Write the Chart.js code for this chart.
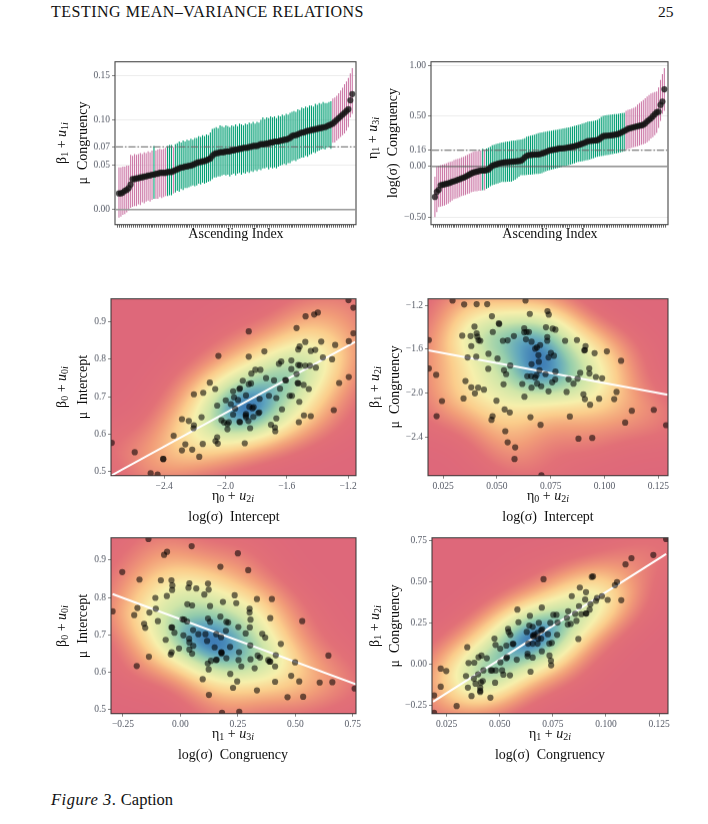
<!DOCTYPE html>
<html>
<head>
<meta charset="utf-8">
<script src="https://cdn.jsdelivr.net/npm/chart.js@4"></script>
<style>
  html, body { margin: 0; padding: 0; background: #fff; }
  body { width: 708px; height: 824px; position: relative; overflow: hidden; font-family: "Liberation Serif", serif; color: #111; }
  canvas { position: absolute; }
  .txt { position: absolute; white-space: pre; line-height: 1; }
  .lab { position: absolute; white-space: pre; line-height: 1; font-size: 14px; transform: translate(-50%, -50%); }
  .rot { transform: translate(-50%, -50%) rotate(-90deg); }
  sub { font-size: 10px; line-height: 0; vertical-align: -2px; }
</style>
</head>
<body>
<div class="txt" style="left:51px;top:3.5px;font-size:16px;letter-spacing:.5px">TESTING MEAN–VARIANCE RELATIONS</div>
<div class="txt" style="left:658px;top:3.5px;font-size:15.5px">25</div>
<div class="txt" style="left:51px;top:792px;font-size:16.5px"><i style="letter-spacing:.5px">Figure 3</i>.<span style="margin-left:5px">Caption</span></div>

<script>
// caterpillar plots: sorted person estimates with intervals
const meanCong = [
  .018,.018,.019,.021,.022,.024,.028,.034,.034,.035,
  .035,.036,.036,.037,.037,.038,.038,.039,.039,.040,
  .040,.041,.041,.041,.041,.042,.042,.042,.043,.044,
  .045,.046,.047,.047,.048,.048,.049,.049,.050,.051,
  .052,.053,.053,.054,.054,.055,.056,.057,.060,.062,
  .063,.063,.064,.064,.064,.065,.065,.065,.066,.066,
  .067,.067,.068,.068,.069,.069,.069,.070,.070,.071,
  .071,.071,.072,.073,.073,.073,.074,.074,.075,.075,
  .076,.076,.076,.077,.077,.078,.078,.079,.080,.082,
  .083,.083,.084,.085,.086,.086,.087,.088,.088,.089,
  .089,.090,.090,.091,.091,.092,.092,.093,.094,.095,
  .096,.098,.100,.102,.104,.106,.108,.110,.112,.122,.129];
const highCong = [
  .047,.047,.048,.048,.049,.049,.061,.060,.062,.061,
  .062,.063,.062,.064,.063,.065,.064,.066,.071,.066,
  .067,.068,.067,.068,.069,.071,.072,.072,.0695,.073,
  .074,.076,.075,.077,.076,.078,.077,.079,.078,.080,
  .080,.082,.081,.083,.082,.084,.083,.086,.090,.091,
  .092,.091,.094,.093,.092,.094,.093,.092,.094,.093,
  .095,.093,.096,.095,.094,.096,.095,.097,.096,.098,
  .096,.098,.097,.100,.103,.101,.103,.102,.104,.103,
  .104,.102,.105,.104,.106,.105,.107,.106,.108,.109,
  .110,.109,.112,.111,.114,.113,.115,.114,.116,.116,
  .115,.118,.117,.119,.118,.120,.119,.119,.120,.121,
  .124,.125,.127,.130,.133,.136,.140,.143,.147,.152,.158];
const lowCong = [
  -.009,-.008,-.006,-.005,-.003,-.001,.002,.003,.004,.004,
  .006,.005,.008,.007,.009,.010,.009,.011,.012,.012,
  .012,.014,.013,.014,.015,.015,.016,.016,.018,.019,
  .021,.020,.023,.022,.024,.024,.025,.026,.027,.026,
  .027,.029,.028,.030,.029,.030,.031,.032,.034,.036,
  .036,.037,.037,.038,.039,.038,.039,.037,.039,.040,
  .038,.040,.041,.039,.041,.040,.042,.041,.043,.042,
  .044,.043,.045,.044,.046,.046,.047,.045,.047,.046,
  .047,.046,.048,.049,.050,.051,.050,.052,.052,.054,
  .055,.054,.056,.057,.058,.058,.060,.059,.061,.062,
  .064,.063,.065,.066,.067,.068,.067,.069,.0695,.068,
  .0745,.075,.077,.079,.081,.083,.085,.088,.092,.103,.107];

const meanLog = [
  -.30,-.25,-.23,-.185,-.18,-.175,-.17,-.165,-.16,-.15,
  -.145,-.14,-.13,-.125,-.115,-.11,-.10,-.09,-.08,-.07,
  -.06,-.055,-.05,-.045,-.04,-.04,-.04,-.035,-.03,-.01,
  .007,.015,.02,.028,.033,.036,.04,.042,.043,.045,
  .046,.048,.05,.052,.054,.056,.07,.09,.105,.112,
  .114,.116,.118,.118,.12,.122,.128,.135,.142,.15,
  .16,.162,.165,.17,.172,.178,.178,.18,.182,.185,
  .188,.192,.196,.2,.205,.21,.218,.225,.232,.24,
  .25,.252,.254,.256,.258,.26,.27,.285,.30,.302,
  .304,.306,.308,.31,.314,.317,.322,.33,.34,.35,
  .36,.372,.378,.382,.388,.393,.398,.402,.406,.412,
  .425,.445,.46,.475,.495,.515,.535,.54,.607,.64,.762];
const highLog = [
  -.10,-.003,.005,.013,.02,.025,.03,.04,.045,.05,
  .063,.07,.075,.082,.09,.095,.105,.115,.125,.135,
  .145,.15,.152,.155,.158,.175,.157,.178,.185,.195,
  .21,.215,.222,.228,.232,.236,.24,.244,.248,.25,
  .254,.256,.258,.262,.265,.267,.272,.28,.294,.30,
  .305,.31,.315,.32,.328,.333,.336,.34,.344,.348,
  .35,.354,.358,.36,.364,.368,.372,.375,.378,.382,
  .386,.39,.396,.40,.405,.41,.416,.422,.428,.436,
  .442,.445,.448,.45,.454,.459,.472,.49,.50,.505,
  .508,.51,.512,.514,.516,.518,.52,.525,.528,.53,
  .548,.558,.565,.572,.58,.59,.61,.625,.64,.655,
  .673,.69,.705,.72,.728,.735,.74,.78,.855,.91,.97];
const lowLog = [
  -.50,-.45,-.40,-.395,-.39,-.385,-.375,-.365,-.35,-.335,
  -.32,-.315,-.31,-.30,-.29,-.285,-.28,-.27,-.265,-.255,
  -.25,-.245,-.245,-.24,-.238,-.235,-.235,-.218,-.21,-.195,
  -.185,-.18,-.172,-.168,-.16,-.152,-.152,-.152,-.15,-.15,
  -.15,-.14,-.13,-.115,-.10,-.086,-.085,-.085,-.082,-.08,
  -.08,-.078,-.076,-.074,-.072,-.07,-.065,-.055,-.048,-.04,
  -.036,-.03,-.025,-.02,-.015,-.01,-.005,0,.005,.01,
  .013,.02,.026,.032,.04,.046,.048,.052,.056,.06,
  .063,.068,.075,.08,.09,.096,.10,.102,.106,.11,
  .112,.116,.12,.124,.128,.13,.135,.14,.146,.152,
  .168,.172,.178,.184,.19,.195,.2,.208,.215,.22,
  .228,.24,.255,.277,.29,.31,.33,.38,.45,.52,.55];

const congTicks = [0, .05, .07, .10, .15];
const logTicks = [-.5, 0, .16, .5, 1];

// scatter: log(sigma) intercept vs mu intercept
const xLogInt = [-2.742,-2.592,-2.406,-2.406,-2.488,-2.443,-2.338,-2.284,-2.262,-2.217,-2.171,-2.148,-2.284,-2.239,-2.206,-2.208,-2.156,-2.206,-2.145,-2.102,-2.067,-2.054,-2.026,-2.05,-2.054,-2.065,-2.046,-1.998,-1.965,-1.95,-1.944,-1.937,-1.95,-1.918,-1.905,-1.909,-1.887,-1.848,-1.833,-1.831,-1.805,-1.772,-1.848,-1.848,-1.746,-1.735,-1.716,-1.777,-1.816,-1.824,-1.866,-1.844,-1.866,-1.868,-1.909,-1.905,-1.987,-1.978,-2.009,-1.987,-1.866,-1.85,-1.839,-1.874,-1.818,-1.785,-1.779,-1.668,-1.683,-1.651,-1.636,-1.57,-1.61,-1.605,-1.644,-1.581,-1.566,-1.631,-1.668,-1.703,-1.677,-1.675,-1.514,-1.525,-1.57,-1.536,-1.479,-1.449,-1.41,-1.49,-1.456,-1.529,-1.525,-1.518,-1.488,-1.443,-1.521,-1.364,-1.443,-1.414,-1.525,-1.516,-1.479,-1.375,-1.536,-1.477,-1.421,-1.397,-1.304,-1.284,-1.195,-1.165,-1.197,-1.165,-1.293,-1.258,-1.195];
const yMuInt = [.577,.552,.534,.534,.496,.493,.596,.557,.573,.559,.540,.574,.640,.635,.624,.616,.645,.706,.710,.737,.720,.676,.637,.575,.592,.582,.808,.690,.680,.714,.698,.668,.652,.691,.722,.720,.742,.733,.735,.761,.771,.771,.873,.806,.820,.749,.702,.694,.672,.669,.703,.673,.654,.650,.633,.632,.627,.632,.631,.613,.645,.635,.616,.576,.646,.656,.658,.696,.743,.787,.793,.796,.744,.743,.721,.702,.702,.666,.642,.625,.618,.608,.783,.784,.773,.760,.782,.782,.777,.731,.72,.736,.735,.686,.650,.648,.632,.804,.821,.824,.825,.833,.845,.846,.882,.913,.918,.923,.799,.837,.847,.868,.956,.936,.664,.736,.752];

// scatter: mu congruency vs log(sigma) intercept
const xMuCong = [.0294,.0348,.0406,.0455,.0633,.0653,.0735,.0741,.0477,.0509,.0511,.0396,.0339,.0378,.0406,.0409,.0415,.0423,.0381,.0481,.0528,.055,.0579,.0627,.0638,.0649,.0627,.0635,.0661,.0728,.0759,.0772,.0734,.0734,.0817,.0872,.0912,.0909,.0906,.0954,.1011,.0184,.0364,.0404,.0461,.0503,.0562,.046,.0533,.0543,.0184,.0218,.0354,.0381,.0413,.044,.0531,.0398,.0345,.0245,.022,.0498,.0628,.0536,.056,.048,.0475,.0656,.0703,.0539,.055,.0585,.0582,.0707,.0839,.0879,.0943,.1096,.1127,.1229,.1286,.1056,.1045,.0975,.0933,.0909,.0902,.0824,.074,.0706,.0661,.0618,.0641,.0659,.0678,.0687,.0684,.0698,.0726,.0772,.0757,.0771,.0833,.0856,.0875,.0887,.0929,.093,.096,.0989,.0661,.0695,.0693,.0701,.0686,.0678,.074,.0751,.0765,.1077];
const yLogInt = [-1.157,-1.193,-1.19,-1.19,-1.157,-1.279,-1.254,-1.285,-1.30,-1.365,-1.371,-1.395,-1.478,-1.481,-1.456,-1.487,-1.52,-1.524,-1.572,-1.444,-1.524,-1.52,-1.481,-1.41,-1.444,-1.444,-1.447,-1.511,-1.533,-1.401,-1.413,-1.423,-1.49,-1.524,-1.524,-1.517,-1.572,-1.609,-1.612,-1.637,-1.621,-1.517,-1.676,-1.67,-1.643,-1.686,-1.75,-1.78,-1.793,-1.829,-1.777,-1.835,-1.891,-1.949,-1.952,-1.97,-1.921,-2.004,-2.05,-2.074,-2.212,-2.071,-2.034,-2.15,-2.178,-2.212,-2.245,-2.221,-2.291,-2.349,-2.45,-2.496,-2.603,-2.75,-2.215,-2.417,-2.41,-2.27,-2.163,-2.154,-2.294,-1.991,-2.056,-2.053,-2.108,-2.056,-2.013,-1.991,-1.985,-1.939,-1.952,-1.918,-1.848,-1.848,-1.86,-1.915,-1.839,-1.793,-1.829,-1.805,-1.903,-1.878,-1.875,-1.915,-1.869,-1.817,-1.777,-1.823,-1.854,-1.866,-1.738,-1.716,-1.655,-1.563,-1.585,-1.597,-1.676,-1.634,-1.661,-1.707];

// scatter: log(sigma) congruency vs mu intercept
const xLogCong = [-.139,.049,-.058,-.071,.25,.174,.295,-.253,-.178,-.085,-.039,-.035,-.036,.039,.035,.069,.12,.123,.104,.236,.243,.185,.333,.398,-.059,-.109,.03,.051,.129,.301,.301,-.107,-.187,-.201,-.135,-.295,-.098,-.158,-.153,.009,.016,.029,.12,.129,.174,.2,.208,.252,.305,.391,.53,.302,.198,-.036,-.039,-.026,.055,.078,.109,.156,.177,.284,.356,.369,-.064,.038,.039,.056,.116,.013,-.006,.039,-.038,-.042,.051,-.137,-.19,.149,.216,.304,.437,.644,.179,.179,.178,.255,.253,.2,.155,.133,.158,.119,.123,.217,.265,.305,.336,.346,.323,.382,.388,.391,.415,.412,.499,.482,.412,.517,.097,.247,.229,.124,.333,.466,.534,.606,.661,.758,.181,.256];
const yMuInt2 = [.956,.937,.922,.914,.918,.882,.873,.868,.848,.846,.846,.832,.82,.838,.826,.824,.837,.821,.808,.806,.785,.788,.796,.796,.804,.799,.782,.779,.777,.770,.760,.770,.772,.753,.760,.763,.737,.730,.719,.742,.741,.736,.744,.735,.749,.735,.733,.721,.741,.745,.737,.72,.711,.72,.72,.706,.713,.702,.702,.702,.694,.704,.703,.693,.687,.69,.68,.671,.684,.699,.664,.661,.654,.648,.65,.642,.617,.667,.668,.672,.676,.645,.653,.65,.654,.654,.633,.638,.633,.631,.634,.624,.608,.596,.616,.635,.645,.64,.611,.633,.629,.629,.646,.616,.627,.591,.575,.576,.582,.576,.559,.54,.552,.534,.535,.573,.574,.557,.492,.495];

// scatter: mu congruency vs log(sigma) congruency
const xMuCong2 = [.0191,.0191,.0222,.0248,.0222,.0297,.0347,.0341,.035,.0353,.0367,.038,.0378,.0386,.0398,.04,.0414,.0439,.0423,.042,.0411,.0408,.0408,.0408,.0458,.0464,.0456,.0478,.0481,.0475,.048,.0502,.0503,.0511,.0517,.0531,.0534,.0531,.0539,.0542,.055,.0561,.0564,.0548,.0583,.0588,.058,.0627,.0642,.0639,.0634,.0631,.0631,.0655,.0645,.0655,.0656,.0663,.0655,.0681,.0678,.0684,.0698,.07,.0695,.0698,.0706,.0727,.0733,.0738,.0745,.0752,.0767,.077,.0772,.0734,.0742,.0741,.0822,.0816,.082,.0834,.0855,.0861,.087,.0873,.0877,.0839,.0906,.0902,.0884,.0908,.0905,.0927,.0923,.0953,.0958,.0981,.1008,.0933,.0939,.1042,.1052,.1072,.1092,.112,.1223,.1283,.0695,.0659,.0678];
const yLogCong = [-.191,-.297,-.028,-.043,-.138,-.256,.102,-.073,-.144,.006,-.195,.008,-.089,-.12,-.063,.041,.051,.035,-.039,-.104,-.112,-.144,-.163,-.171,-.039,-.039,-.205,-.114,-.039,.154,.116,.093,.01,-.039,-.065,.035,.041,.112,.213,.195,.177,.122,.122,-.069,.331,.254,.026,.195,.293,.234,.124,.063,.047,.039,-.047,.226,.173,.179,.124,.154,.124,.25,.343,.211,.154,.077,.516,.181,.124,.25,.128,.299,.299,.177,.252,.051,-.008,.02,.321,.28,.24,.244,.305,.262,.152,.352,.465,.413,.437,.392,.303,.307,.307,.364,.331,.384,.402,.413,.39,.53,.533,.48,.498,.388,.606,.644,.663,.76,.205,.167,.189];

// fitted lines, ends
const fitLogInt = [[-2.742, .491], [-1.154, .845]];
const fitMuCong = [[.0181, -1.612], [.1294, -2.016]];
const fitLogCong = [[-.295, .809], [.764, .568]];
const fitMuCong2 = [[.0186, -.23], [.1283, .669]];

const etaTicks = [-2.4, -2.0, -1.6, -1.2];
const muCongTicks = [.025, .05, .075, .1, .125];
const logCongTicks = [-.25, 0, .25, .5, .75];
const muIntTicks = [.5, .6, .7, .8, .9];
const logIntTicks = [-2.4, -2.0, -1.6, -1.2];
const fullCongTicks = [-.25, 0, .25, .5, .75];

const PINK = '#CC79A7';
const GREEN = '#009E73';
const TICK_FONT = { family: '"Liberation Serif", serif', size: 9.5 };
const TICK_COL = '#555a66';
const ML = 50, MB = 22, MT = 4, MR = 14;
const BW_SCALE = 1.3;

// Spectral style ramp, low density to high
const RAMP = [
  [0, 222, 104, 122], [.08, 226, 112, 119], [.2, 241, 155, 120], [.34, 251, 205, 140],
  [.5, 247, 240, 172], [.68, 208, 230, 168], [.82, 148, 205, 172], [.93, 95, 165, 190], [1, 62, 125, 182]
];

function rampColor(t) {
  for (let i = 1; i < RAMP.length; i++) {
    if (t <= RAMP[i][0]) {
      const a = RAMP[i - 1], b = RAMP[i], f = (t - a[0]) / (b[0] - a[0]);
      return [a[1] + (b[1] - a[1]) * f, a[2] + (b[2] - a[2]) * f, a[3] + (b[3] - a[3]) * f];
    }
  }
  return RAMP[RAMP.length - 1].slice(1);
}

function bandwidth(v) {
  const s = [...v].sort((a, b) => a - b);
  const n = s.length, m = s.reduce((a, b) => a + b, 0) / n;
  const sd = Math.sqrt(s.reduce((a, b) => a + (b - m) * (b - m), 0) / (n - 1));
  const iqr = s[Math.floor(n * .75)] - s[Math.floor(n * .25)];
  return BW_SCALE * 1.06 * Math.min(sd, iqr / 1.34) * Math.pow(n, -.2);
}

// raster of the 2d density of the points, same idea as kde2d
const densityPlugin = {
  id: 'density',
  beforeDatasetsDraw(chart, args, opts) {
    if (!opts.xs) return;
    const { left, top, width, height } = chart.chartArea;
    const sx = chart.scales.x, sy = chart.scales.y;
    const hx = bandwidth(opts.xs), hy = bandwidth(opts.ys);
    const w = Math.round(width), h = Math.round(height);
    const vals = new Float64Array(w * h);
    let max = 0;
    for (let j = 0; j < h; j++) {
      const vy = sy.getValueForPixel(top + j + .5);
      for (let i = 0; i < w; i++) {
        const vx = sx.getValueForPixel(left + i + .5);
        let d = 0;
        for (let k = 0; k < opts.xs.length; k++) {
          const a = (vx - opts.xs[k]) / hx, b = (vy - opts.ys[k]) / hy;
          d += Math.exp(-.5 * (a * a + b * b));
        }
        vals[j * w + i] = d;
        if (d > max) max = d;
      }
    }
    const off = document.createElement('canvas');
    off.width = w; off.height = h;
    const octx = off.getContext('2d');
    const img = octx.createImageData(w, h);
    for (let p = 0; p < vals.length; p++) {
      const c = rampColor(vals[p] / max);
      img.data[p * 4] = c[0]; img.data[p * 4 + 1] = c[1]; img.data[p * 4 + 2] = c[2]; img.data[p * 4 + 3] = 255;
    }
    octx.putImageData(img, 0, 0);
    chart.ctx.drawImage(off, left, top);
  }
};

const framePlugin = {
  id: 'frame',
  afterDraw(chart) {
    const { left, top, width, height } = chart.chartArea;
    chart.ctx.save();
    chart.ctx.strokeStyle = 'rgba(50,50,50,.9)';
    chart.ctx.lineWidth = 1.1;
    chart.ctx.strokeRect(left, top, width, height);
    chart.ctx.restore();
  }
};

function addCanvas(box) {
  const c = document.createElement('canvas');
  const w = box.r - box.l + ML + MR, h = box.b - box.t + MT + MB;
  c.width = w; c.height = h;
  c.style.left = (box.l - ML) + 'px';
  c.style.top = (box.t - MT) + 'px';
  c.style.width = w + 'px';
  c.style.height = h + 'px';
  document.body.appendChild(c);
  return c;
}

// the layout may eat a few pixels, so line the plot area up with the box afterwards
function fitToBox(chart, box) {
  const extra = (box.b - box.t) - chart.chartArea.height;
  if (Math.abs(extra) > .01) chart.resize(chart.width, chart.height + extra);
  chart.canvas.style.left = (box.l - chart.chartArea.left) + 'px';
  chart.canvas.style.top = (box.t - chart.chartArea.top) + 'px';
  chart.canvas.style.position = 'absolute';
}

function tickLabel(v, dec) {
  const s = Math.abs(v).toFixed(dec);
  return v < 0 ? '\u2212' + s : s;
}

function axis(min, max, ticks, dec, size, drawGrid) {
  return {
    type: 'linear', min, max,
    afterBuildTicks: s => { s.ticks = ticks.map(v => ({ value: v })); },
    afterFit: s => { if (s.axis === 'x') s.height = size; else s.width = size; },
    border: { display: false },
    grid: { drawOnChartArea: drawGrid, drawTicks: true, tickLength: 3, color: '#ebebeb', tickColor: '#666', lineWidth: 1, tickWidth: .8 },
    ticks: {
      autoSkip: false, maxRotation: 0, padding: 2, font: TICK_FONT, color: TICK_COL,
      callback: v => dec < 0 ? '' : tickLabel(v, dec)
    }
  };
}

function baseOptions() {
  return {
    responsive: false,
    maintainAspectRatio: false,
    animation: false,
    events: [],
    layout: { autoPadding: false, padding: { top: MT, right: MR, left: 0, bottom: 0 } },
    plugins: { legend: { display: false }, tooltip: { enabled: false } }
  };
}

function caterpillar(box, mean, low, high, groupMean, yTicks, yMin, yMax, zeroColor, zeroWidth) {
  const xMin = -1.53, xMax = mean.length - 1 + 1.4;
  const index = mean.map((_, i) => i);
  const colors = index.map(i => (high[i] < groupMean || low[i] > groupMean) ? PINK : GREEN);
  const xAxis = axis(xMin, xMax, index, -1, MB, false);
  xAxis.ticks.font = { size: 1 };
  xAxis.ticks.padding = 0;
  xAxis.grid.tickColor = '#444';
  const options = baseOptions();
  options.scales = { x: xAxis, y: axis(yMin, yMax, yTicks, 2, ML, true) };
  options.scales.y.grid.color = '#ececec';
  const chart = new Chart(addCanvas(box), {
    type: 'bar',
    plugins: [framePlugin],
    data: {
      datasets: [
        { type: 'scatter', order: 1, data: index.map(i => ({ x: i, y: mean[i] })), backgroundColor: 'rgba(20,20,20,.78)', borderWidth: 0, pointRadius: 3.1, clip: 0 },
        { type: 'line', order: 2, data: [{ x: xMin, y: groupMean }, { x: xMax, y: groupMean }], borderColor: '#666', borderWidth: 1, borderDash: [7, 2, 1.5, 2], pointRadius: 0 },
        { type: 'line', order: 2, data: [{ x: xMin, y: 0 }, { x: xMax, y: 0 }], borderColor: zeroColor, borderWidth: zeroWidth, pointRadius: 0 },
        { type: 'bar', order: 3, data: index.map(i => ({ x: i, y: [low[i], high[i]] })), backgroundColor: colors, barThickness: 1.1, inflateAmount: 0 }
      ]
    },
    options
  });
  fitToBox(chart, box);
}

function scatterPanel(box, xs, ys, fit, xRange, yRange, xTicks, xDec, yTicks, yDec) {
  const options = baseOptions();
  options.scales = {
    x: axis(xRange[0], xRange[1], xTicks, xDec, MB, false),
    y: axis(yRange[0], yRange[1], yTicks, yDec, ML, false)
  };
  options.plugins.density = { xs, ys };
  const chart = new Chart(addCanvas(box), {
    type: 'scatter',
    plugins: [densityPlugin, framePlugin],
    data: {
      datasets: [
        { order: 1, data: xs.map((x, i) => ({ x, y: ys[i] })), backgroundColor: 'rgba(0,0,0,.56)', borderWidth: 0, pointRadius: 3.1, clip: 0 },
        { type: 'line', order: 2, data: fit.map(p => ({ x: p[0], y: p[1] })), borderColor: '#fff', borderWidth: 2, pointRadius: 0, clip: 0 }
      ]
    },
    options
  });
  fitToBox(chart, box);
}

caterpillar({ l: 115, t: 62, r: 356, b: 224 }, meanCong, lowCong, highCong, .07, congTicks, -.0168, .165, '#999', 1.6);
caterpillar({ l: 431, t: 62, r: 668, b: 224 }, meanLog, lowLog, highLog, .16, logTicks, -.573, 1.033, '#555', 1);
scatterPanel({ l: 111, t: 299, r: 356, b: 475 }, xLogInt, yMuInt, fitLogInt, [-2.747, -1.148], [.49, .9597], etaTicks, 1, muIntTicks, 1);
scatterPanel({ l: 428, t: 299, r: 668, b: 475 }, xMuCong, yLogInt, fitMuCong, [.018, .1295], [-2.754, -1.141], muCongTicks, 3, logIntTicks, 1);
scatterPanel({ l: 111, t: 538, r: 356, b: 713 }, xLogCong, yMuInt2, fitLogCong, [-.302, .764], [.49, .9595], logCongTicks, 2, muIntTicks, 1);
scatterPanel({ l: 432, t: 538, r: 668, b: 713 }, xMuCong2, yLogCong, fitMuCong2, [.0181, .1292], [-.302, .768], muCongTicks, 3, fullCongTicks, 2);

// axis captions
const sym = (g, a, b) => `${g}<sub>${a}</sub> + <i>u</i><sub>${b}<i>i</i></sub>`;
const captions = [
  [62, 143, sym('β', 1, 1), true], [83, 143, 'μ  Congruency', true], [236, 234, 'Ascending Index', false],
  [373, 138, sym('η', 1, 3), true], [393, 143, 'log(σ)  Congruency', true], [550, 234, 'Ascending Index', false],
  [62, 387, sym('β', 0, 0), true], [83, 387, 'μ  Intercept', true], [233, 496, sym('η', 0, 2), false], [234, 517, 'log(σ)  Intercept', false],
  [375, 387, sym('β', 1, 2), true], [395, 387, 'μ  Congruency', true], [548, 496, sym('η', 0, 2), false], [548, 517, 'log(σ)  Intercept', false],
  [62, 626, sym('β', 0, 0), true], [83, 626, 'μ  Intercept', true], [233, 734, sym('η', 1, 3), false], [233, 755, 'log(σ)  Congruency', false],
  [375, 626, sym('β', 1, 2), true], [395, 626, 'μ  Congruency', true], [550, 734, sym('η', 1, 2), false], [550, 755, 'log(σ)  Congruency', false]
];
captions.forEach(([x, y, html, rot]) => {
  const d = document.createElement('div');
  d.className = rot ? 'lab rot' : 'lab';
  d.style.left = x + 'px';
  d.style.top = y + 'px';
  d.innerHTML = html;
  document.body.appendChild(d);
});
</script>
</body>
</html>
